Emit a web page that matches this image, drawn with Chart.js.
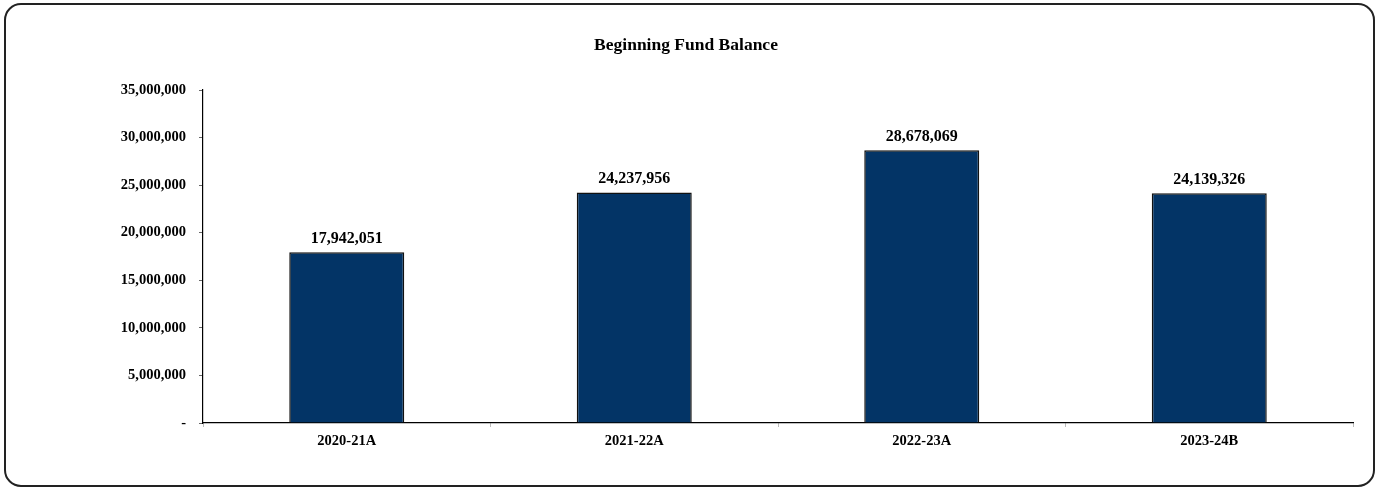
<!DOCTYPE html>
<html>
<head>
<meta charset="utf-8">
<script src="https://cdn.jsdelivr.net/npm/chart.js@4/dist/chart.umd.min.js"></script>
<style>
  html, body { margin: 0; padding: 0; background: #fff; }
  #wrap { position: relative; width: 1377px; height: 491px; }
  #frame {
    position: absolute; left: 4px; top: 3px; width: 1371px; height: 484px;
    border: 2px solid #222; border-radius: 17px; box-sizing: border-box;
  }
  canvas { position: absolute; left: 0; top: 0; }
</style>
</head>
<body>
<div id="wrap">
  <div id="frame"></div>
  <canvas id="Graf1" width="1377" height="491"></canvas>
</div>
<script>
const years = ['2020-21A', '2021-22A', '2022-23A', '2023-24B'];
const balances = [17942051, 24237956, 28678069, 24139326];
const yTicks = [0, 5000000, 10000000, 15000000, 20000000, 25000000, 30000000, 35000000];

const serif = "'Liberation Serif', 'Times New Roman', serif";

function fmt(v) {
  return v === 0 ? '-' : v.toLocaleString('en-US');
}

// title and value labels above each bar
const labelsPlugin = {
  id: 'labelsPlugin',
  afterDatasetsDraw(chart) {
    const c = chart.ctx;
    c.save();
    c.fillStyle = '#000';
    c.textAlign = 'center';
    c.textBaseline = 'alphabetic';
    c.font = 'bold 17.5px ' + serif;
    c.fillText('Beginning Fund Balance', 686, 50);
    c.font = 'bold 16px ' + serif;
    chart.getDatasetMeta(0).data.forEach((bar, i) => {
      c.fillText(fmt(balances[i]), bar.x, bar.y - 9);
    });
    c.restore();
  }
};

const ctx = document.getElementById('Graf1').getContext('2d');
const grafBar = new Chart(ctx, {
  type: 'bar',
  data: {
    labels: years,
    datasets: [{
      data: balances,
      backgroundColor: '#033466',
      borderColor: '#111',
      borderWidth: 1.5,
      barPercentage: 0.4,
      categoryPercentage: 1
    }]
  },
  options: {
    responsive: false,
    animation: false,
    layout: { padding: { left: 0, right: 24, top: 90, bottom: 28 } },
    plugins: {
      legend: { display: false },
      tooltip: { enabled: false }
    },
    scales: {
      x: {
        afterFit(scale) { scale.height = 40; },
        border: { color: '#000', width: 1.2 },
        grid: { drawOnChartArea: false, tickLength: 4, tickColor: '#bbb', offset: true },
        ticks: { color: '#000', padding: 6, font: { family: serif, size: 14.5, weight: 'bold' } }
      },
      y: {
        min: 0,
        max: 35000000,
        afterFit(scale) { scale.width = 203; },
        afterBuildTicks(scale) { scale.ticks = yTicks.map(v => ({ value: v })); },
        border: { color: '#000', width: 1.2 },
        grid: { drawOnChartArea: false, tickLength: 4, tickColor: '#666' },
        ticks: {
          color: '#000',
          padding: 13,
          font: { family: serif, size: 14.5, weight: 'bold' },
          callback: v => fmt(v)
        }
      }
    }
  },
  plugins: [labelsPlugin]
});
</script>
</body>
</html>
